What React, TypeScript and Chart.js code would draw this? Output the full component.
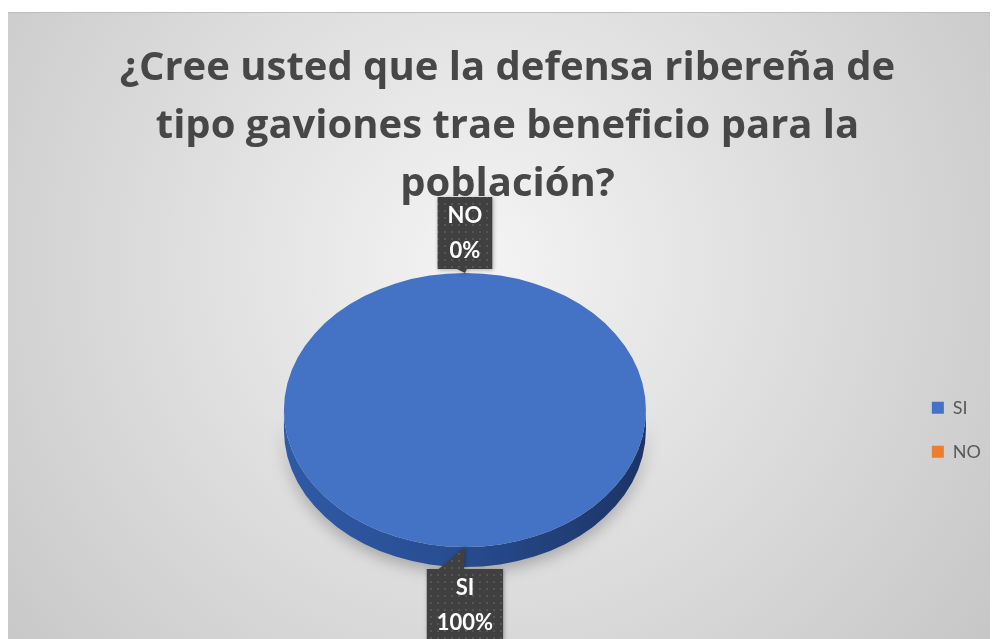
import React, { useEffect, useRef } from 'react';
import { Chart, registerables } from 'chart.js';

Chart.register(...registerables);

const TITLE_LINES = ['¿Cree usted que la defensa ribereña de', 'tipo gaviones trae beneficio para la', 'población?'];
const CATEGORIES = ['SI', 'NO'];
const VALUES = [100, 0];
const COLORS = ['#4472c4', '#ed7d31'];

const TILT = 0.757;
const DEPTH = 20;
const LABEL_FONT = 'Lato';

function makePattern(ctx: CanvasRenderingContext2D) {
  const c = document.createElement('canvas');
  c.width = 7;
  c.height = 7;
  const p = c.getContext('2d')!;
  p.fillStyle = '#404040';
  p.fillRect(0, 0, 7, 7);
  p.fillStyle = '#555555';
  p.fillRect(2, 2, 2, 2);
  return ctx.createPattern(c, 'repeat');
}

const background = {
  id: 'bg',
  beforeDraw(chart: any) {
    const { ctx, width, height } = chart;
    const cx = width * 0.48;
    const cy = height * 0.4;
    const g = ctx.createRadialGradient(cx, cy, 0, cx, cy, Math.hypot(width * 0.52, height * 0.6));
    g.addColorStop(0, '#f4f4f4');
    g.addColorStop(1, '#c6c6c6');
    ctx.save();
    ctx.fillStyle = g;
    ctx.fillRect(0, 0, width, height);
    ctx.fillStyle = '#bdbdbd';
    ctx.fillRect(0, 0, width, 1);
    ctx.restore();
  },
};

const pie3d = {
  id: 'pie3d',
  beforeDatasetsDraw(chart: any) {
    const { ctx } = chart;
    const meta = chart.getDatasetMeta(0);
    meta.data.forEach((el: any, i: number) => {
      if (el.endAngle - el.startAngle <= 0) return;
      const { x, y, outerRadius: r } = el;
      const ry = r * TILT;
      for (const off of [0, -Math.PI * 2, Math.PI * 2]) {
        const lo = Math.max(el.startAngle + off, 0);
        const hi = Math.min(el.endAngle + off, Math.PI);
        if (hi <= lo) continue;
        ctx.save();
        ctx.shadowColor = 'rgba(0,0,0,0.28)';
        ctx.shadowBlur = 16;
        ctx.shadowOffsetY = 5;
        const g = ctx.createLinearGradient(x - r, 0, x + r, 0);
        g.addColorStop(0, '#2f5aa6');
        g.addColorStop(0.45, '#284e92');
        g.addColorStop(1, '#1c3466');
        ctx.fillStyle = i === 0 ? g : '#b35a1f';
        ctx.beginPath();
        ctx.ellipse(x, y, r, ry, 0, lo, hi, false);
        ctx.ellipse(x, y + DEPTH, r, ry, 0, hi, lo, true);
        ctx.closePath();
        ctx.fill();
        ctx.restore();
      }
    });
    const el0 = meta.data[0];
    ctx.save();
    ctx.translate(el0.x, el0.y);
    ctx.scale(1, TILT);
    ctx.translate(-el0.x, -el0.y);
  },
  afterDatasetsDraw(chart: any) {
    chart.ctx.restore();
  },
};

const labels3d = {
  id: 'labels3d',
  afterDraw(chart: any) {
    const { ctx } = chart;
    const meta = chart.getDatasetMeta(0);
    const total = VALUES.reduce((a, b) => a + b, 0);
    const pattern = makePattern(ctx);
    meta.data.forEach((el: any, i: number) => {
      const mid = (el.startAngle + el.endAngle) / 2;
      const r = el.outerRadius;
      const ax = el.x + r * Math.cos(mid);
      const ay = el.y + r * TILT * Math.sin(mid);
      const below = Math.sin(mid) > 0;
      const lines = [CATEGORIES[i], Math.round((VALUES[i] / total) * 100) + '%'];
      ctx.save();
      ctx.font = `bold 22px ${LABEL_FONT}`;
      const tw = Math.max(...lines.map((t) => ctx.measureText(t).width));
      const w = tw + 20;
      const h = 72;
      const bx = ax - w / 2;
      const by = below ? ay + DEPTH + 2 : ay - 4 - h;
      ctx.shadowColor = 'rgba(0,0,0,0.3)';
      ctx.shadowBlur = 4;
      ctx.shadowOffsetX = 1;
      ctx.shadowOffsetY = 1;
      ctx.fillStyle = pattern || '#404040';
      ctx.beginPath();
      if (below) {
        ctx.moveTo(bx, by);
        ctx.lineTo(bx + 12, by);
        ctx.lineTo(ax, ay);
        ctx.lineTo(ax - 1, by);
        ctx.lineTo(bx + w, by);
        ctx.lineTo(bx + w, by + h);
        ctx.lineTo(bx, by + h);
      } else {
        ctx.moveTo(bx, by);
        ctx.lineTo(bx + w, by);
        ctx.lineTo(bx + w, by + h);
        ctx.lineTo(ax + 2, by + h);
        ctx.lineTo(ax, ay);
        ctx.lineTo(ax - 8, by + h);
        ctx.lineTo(bx, by + h);
      }
      ctx.closePath();
      ctx.fill();
      ctx.shadowColor = 'transparent';
      ctx.fillStyle = '#ffffff';
      ctx.textAlign = 'center';
      ctx.textBaseline = 'middle';
      ctx.fillText(lines[0], bx + w / 2, by + 19);
      ctx.fillText(lines[1], bx + w / 2, by + 54);
      ctx.restore();
    });
  },
};

export default function App() {
  const canvasRef = useRef<HTMLCanvasElement>(null);
  useEffect(() => {
    document.body.style.overflow = 'hidden';
    const chart = new Chart(canvasRef.current!, {
      type: 'pie',
      data: {
        labels: CATEGORIES,
        datasets: [
          {
            data: VALUES,
            backgroundColor: COLORS,
            borderColor: COLORS,
            borderWidth: 0,
          },
        ],
      },
      options: {
        responsive: false,
        animation: false,
        layout: { padding: { left: 16, right: 7, bottom: 48, top: 0 } },
        plugins: {
          tooltip: { enabled: false },
          title: {
            display: true,
            text: TITLE_LINES,
            color: '#474747',
            font: { family: 'Open Sans', size: 40, weight: 'bold', lineHeight: 1.45 },
            padding: { top: 28, bottom: 15 },
          },
          legend: {
            position: 'right',
            fullSize: false,
            title: { display: true, text: '', padding: { top: 25, bottom: 0 } },
            labels: {
              boxWidth: 12,
              boxHeight: 12,
              padding: 26,
              color: '#595959',
              font: { family: 'Lato', size: 18 },
            },
          },
        },
      },
      plugins: [background, pie3d, labels3d],
    } as any);
    return () => chart.destroy();
  }, []);
  return (
    <div style={{ paddingTop: 4 }}>
      <canvas ref={canvasRef} width={990} height={627} style={{ display: 'block' }} />
    </div>
  );
}
